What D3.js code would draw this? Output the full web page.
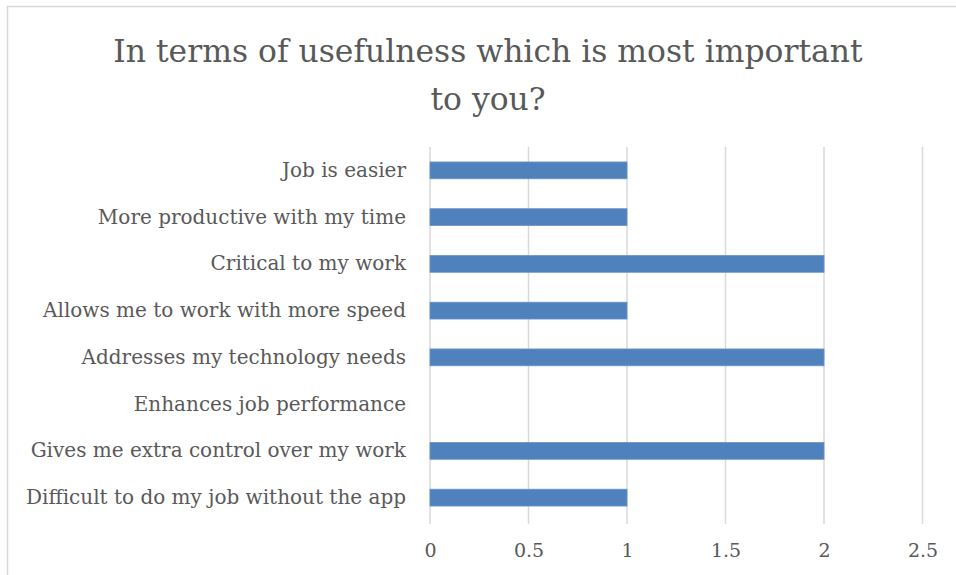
<!DOCTYPE html>
<html>
<head>
<meta charset="utf-8">
<script src="https://cdn.jsdelivr.net/npm/d3@7"></script>
<style>
  html, body { margin: 0; padding: 0; background: #fff; }
  svg { display: block; }
  text { font-family: "DejaVu Serif", "Liberation Serif", serif; fill: #595959; }
</style>
</head>
<body>
<svg id="chart" width="956" height="575"></svg>
<script>
// Survey answers, listed top to bottom as they appear
const categories = [
  "Job is easier",
  "More productive with my time",
  "Critical to my work",
  "Allows me to work with more speed",
  "Addresses my technology needs",
  "Enhances job performance",
  "Gives me extra control over my work",
  "Difficult to do my job without the app"
];
const responses = [1, 1, 2, 1, 2, 0, 2, 1];
const xTicks = [0, 0.5, 1, 1.5, 2, 2.5];
const titleLines = ["In terms of usefulness which is most important", "to you?"];

const svg = d3.select("#chart");
const margin = { left: 430, right: 34, top: 147, bottom: 54 };
const W = 956, H = 575;
const fontStack = '"DejaVu Serif", "Liberation Serif", serif';

// chart frame
svg.append("path")
  .attr("d", `M7.5,${H} V6.5 H${W}`)
  .attr("fill", "none")
  .attr("stroke", "#d9d9d9")
  .attr("stroke-width", 1.5);

const x = d3.scaleLinear().domain([0, 2.5]).range([margin.left, margin.left + 492.5]);
const y = d3.scaleBand().domain(categories).range([margin.top, H - margin.bottom]).paddingInner(0.64).paddingOuter(0.32);

// vertical gridlines
svg.append("g")
  .selectAll("line")
  .data(xTicks)
  .join("line")
  .attr("x1", d => x(d)).attr("x2", d => x(d))
  .attr("y1", margin.top).attr("y2", H - margin.bottom + 3)
  .attr("stroke", "#d9d9d9")
  .attr("stroke-width", 1.5);

// bars
svg.append("g")
  .selectAll("rect")
  .data(categories.map((c, i) => ({ c, v: responses[i] })).filter(d => d.v > 0))
  .join("rect")
  .attr("x", x(0))
  .attr("y", d => y(d.c))
  .attr("width", d => x(d.v) - x(0))
  .attr("height", y.bandwidth())
  .attr("fill", "#4f81bd")
  .attr("stroke", "#6a95c8")
  .attr("stroke-width", 0.8);

// category labels
const yAxis = d3.axisLeft(y).tickSize(0).tickPadding(24);
const gy = svg.append("g").attr("transform", `translate(${x(0)},0)`).call(yAxis);
gy.select(".domain").remove();
gy.selectAll("text")
  .attr("fill", "#595959")
  .style("font-family", fontStack)
  .style("font-size", "20px");

// value axis labels
const xAxis = d3.axisBottom(x).tickValues(xTicks).tickSize(0).tickPadding(23)
  .tickFormat(d => String(d));
const gx = svg.append("g").attr("transform", `translate(0,${H - margin.bottom})`).call(xAxis);
gx.select(".domain").remove();
gx.selectAll("text")
  .attr("fill", "#595959")
  .style("font-family", fontStack)
  .style("font-size", "19px");

// title
svg.append("text")
  .attr("x", 488)
  .attr("text-anchor", "middle")
  .style("font-size", "31.4px")
  .selectAll("tspan")
  .data(titleLines)
  .join("tspan")
  .attr("x", 488)
  .attr("y", (d, i) => 62 + i * 48)
  .text(d => d);
</script>
</body>
</html>
